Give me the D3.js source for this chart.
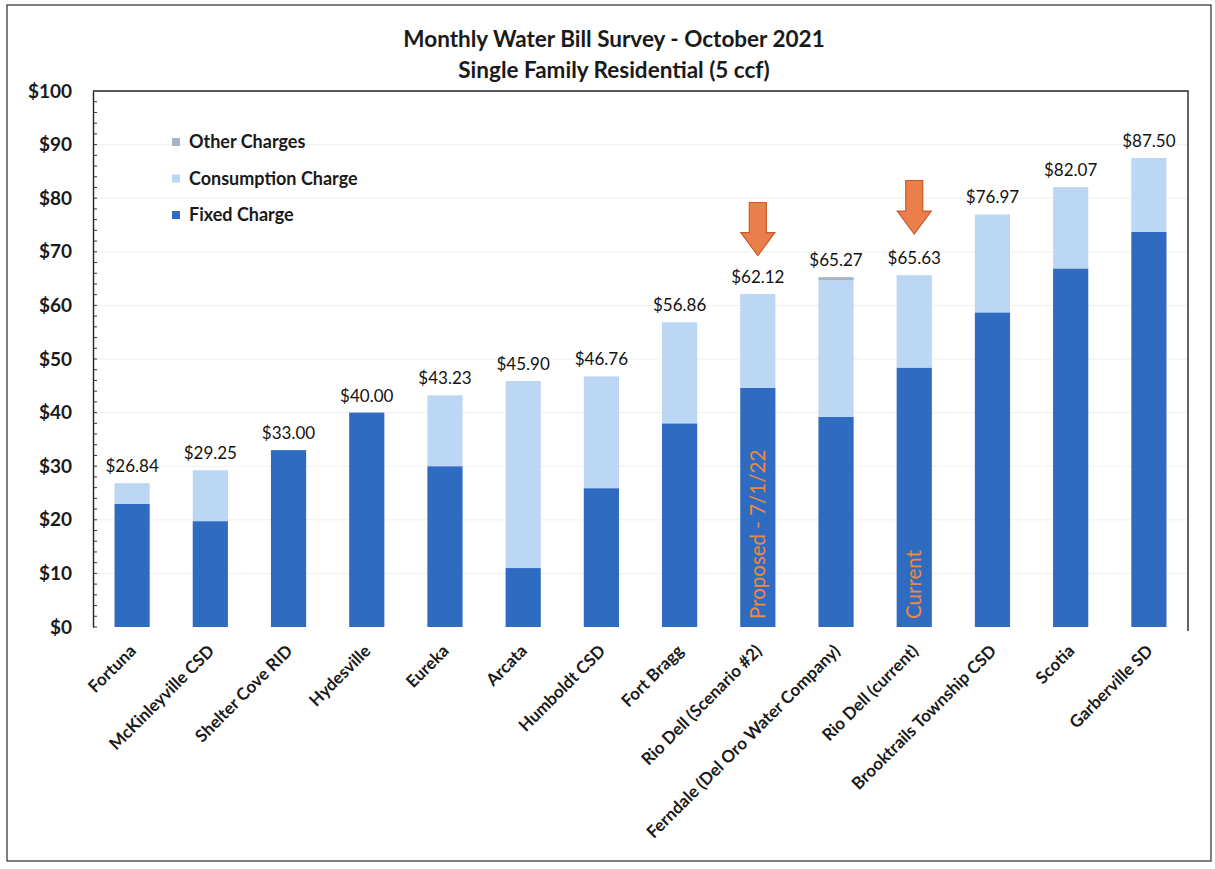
<!DOCTYPE html>
<html>
<head>
<meta charset="utf-8">
<script src="https://cdn.jsdelivr.net/npm/d3@7"></script>
<style>
  html, body { margin: 0; padding: 0; background: #fff; }
  svg { display: block; font-family: Lato, "Open Sans", sans-serif; }
  svg text { font-family: Lato, "Open Sans", sans-serif; }
</style>
</head>
<body>
<svg id="chart" width="1215" height="869"></svg>
<script>
// Utilities surveyed and the charge breakdown of a 5 ccf monthly bill
const utilities = [
  "Fortuna", "McKinleyville CSD", "Shelter Cove RID", "Hydesville", "Eureka",
  "Arcata", "Humboldt CSD", "Fort Bragg", "Rio Dell (Scenario #2)",
  "Ferndale (Del Oro Water Company)", "Rio Dell (current)",
  "Brooktrails Township CSD", "Scotia", "Garberville SD"
];
const totalBill = [26.84, 29.25, 33.00, 40.00, 43.23, 45.90, 46.76, 56.86, 62.12, 65.27, 65.63, 76.97, 82.07, 87.50];
const fixedCharge = [23.00, 19.75, 33.00, 40.00, 30.00, 11.00, 25.90, 38.00, 44.60, 39.20, 48.40, 58.70, 66.90, 73.70];
const otherCharges = [0, 0, 0, 0, 0, 0, 0, 0, 0, 0.60, 0, 0, 0, 0];
// consumption is whatever remains of the total bill
const consumptionCharge = totalBill.map((t, i) => +(t - fixedCharge[i] - otherCharges[i]).toFixed(2));

const seriesKeys = ["fixed", "consumption", "other"];
const legendLabels = ["Other Charges", "Consumption Charge", "Fixed Charge"];
const legendKeys = ["other", "consumption", "fixed"];
const yTickValues = [0, 10, 20, 30, 40, 50, 60, 70, 80, 90, 100];

// Callouts drawn on the two Rio Dell bars (arrow ends in dollar units)
const callouts = [
  { utility: "Rio Dell (Scenario #2)", text: "Proposed - 7/1/22", arrowTop: 79.2, arrowBottom: 69.3 },
  { utility: "Rio Dell (current)", text: "Current", arrowTop: 83.3, arrowBottom: 73.3 }
];

const colors = { fixed: "#2f6cc1", consumption: "#bcd7f3", other: "#a7b3c1" };

const rows = utilities.map((u, i) => ({
  utility: u, fixed: fixedCharge[i], consumption: consumptionCharge[i],
  other: otherCharges[i], total: totalBill[i]
}));

const svg = d3.select("#chart");
const margin = { left: 93, right: 1188, top: 91, bottom: 627 };

const x = d3.scaleBand().domain(utilities).range([margin.left, margin.right])
  .paddingInner(0.55).paddingOuter(0.275);
const y = d3.scaleLinear().domain([0, 100]).range([margin.bottom, margin.top]);

// outer frame of the chart
svg.append("rect").attr("x", 7).attr("y", 5).attr("width", 1204).attr("height", 856)
  .attr("fill", "none").attr("stroke", "#3a3a3a").attr("stroke-width", 1.3);

// faint horizontal gridlines
svg.append("g").selectAll("line").data(yTickValues.filter(v => v > 0 && v < 100)).join("line")
  .attr("x1", margin.left).attr("x2", margin.right)
  .attr("y1", d => y(d)).attr("y2", d => y(d))
  .attr("stroke", "#efefef").attr("stroke-width", 1);

// plot frame: top and right borders
svg.append("path")
  .attr("d", `M${margin.left},${margin.top}H${margin.right}V${margin.bottom + 4}`)
  .attr("fill", "none").attr("stroke", "#222").attr("stroke-width", 1.4);

// stacked bars
const stack = d3.stack().keys(seriesKeys)(rows);
svg.append("g").selectAll("g").data(stack).join("g")
  .attr("fill", d => colors[d.key])
  .selectAll("rect").data(d => d).join("rect")
  .attr("x", d => x(d.data.utility))
  .attr("width", x.bandwidth())
  .attr("y", d => y(d[1]))
  .attr("height", d => Math.max(0, y(d[0]) - y(d[1])));

// y axis with $ labels and minor ticks
const yAxis = d3.axisLeft(y).tickValues(yTickValues).tickFormat(d => "$" + d).tickSize(0).tickPadding(21);
const gy = svg.append("g").attr("transform", `translate(${margin.left},0)`).call(yAxis)
  .attr("font-family", null);
gy.select(".domain").attr("stroke", "#222").attr("stroke-width", 1.4);
gy.selectAll("text").attr("font-size", 19).attr("font-weight", 700).attr("fill", "#1a1a1a");
svg.append("g").selectAll("line").data(d3.range(0, 100, 2)).join("line")
  .attr("x1", margin.left).attr("x2", margin.left + 4)
  .attr("y1", d => y(d)).attr("y2", d => y(d))
  .attr("stroke", "#333").attr("stroke-width", 1);

// x axis labels, rotated
const xAxis = d3.axisBottom(x).tickSize(0).tickPadding(0);
const gx = svg.append("g").attr("transform", `translate(0,${margin.bottom})`).call(xAxis)
  .attr("font-family", null);
gx.select(".domain").remove();
gx.selectAll("text")
  .attr("text-anchor", "end")
  .attr("dy", 0)
  .attr("font-size", 17).attr("font-weight", 700).attr("fill", "#1a1a1a")
  .attr("transform", "translate(5,25) rotate(-45)");

// total value labels
svg.append("g").selectAll("text").data(rows).join("text")
  .attr("x", d => x(d.utility) + x.bandwidth() / 2)
  .attr("y", d => y(d.total) - 11)
  .attr("text-anchor", "middle")
  .attr("font-size", 17).attr("font-weight", 400).attr("fill", "#111")
  .text(d => "$" + d.total.toFixed(2));

// vertical notes inside the Rio Dell bars
svg.append("g").selectAll("text").data(callouts).join("text")
  .attr("transform", d => `translate(${x(d.utility) + x.bandwidth() / 2 + 7},${y(0) - 8}) rotate(-90)`)
  .attr("text-anchor", "start")
  .attr("font-size", 20.5).attr("fill", "#f0883a")
  .text(d => d.text);

// down arrows above the Rio Dell bars
const arrow = (cx, top, bottom) => {
  const sw = 8.5, hw = 17, hh = 23;
  const neck = bottom - hh;
  return `M${cx - sw},${top}H${cx + sw}V${neck}H${cx + hw}L${cx},${bottom}L${cx - hw},${neck}H${cx - sw}Z`;
};
svg.append("g").selectAll("path").data(callouts).join("path")
  .attr("d", d => arrow(x(d.utility) + x.bandwidth() / 2, y(d.arrowTop), y(d.arrowBottom)))
  .attr("fill", "#ea7f4b").attr("stroke", "#c95a24").attr("stroke-width", 1.2);

// legend
const lg = svg.append("g").selectAll("g").data(legendKeys).join("g")
  .attr("transform", (d, i) => `translate(172,${142 + i * 36.5})`);
lg.append("rect").attr("x", 0).attr("y", -4).attr("width", 8).attr("height", 8)
  .attr("fill", d => colors[d]);
lg.append("text").attr("x", 17).attr("y", 0).attr("dy", "0.35em")
  .attr("font-size", 18).attr("font-weight", 700).attr("fill", "#1a1a1a")
  .text((d, i) => legendLabels[i]);

// title
const title = svg.append("g").attr("text-anchor", "middle")
  .attr("font-size", 22.5).attr("font-weight", 700).attr("fill", "#1a1a1a");
title.append("text").attr("x", 614).attr("y", 47).text("Monthly Water Bill Survey - October 2021");
title.append("text").attr("x", 614).attr("y", 78).text("Single Family Residential (5 ccf)");
</script>
</body>
</html>
